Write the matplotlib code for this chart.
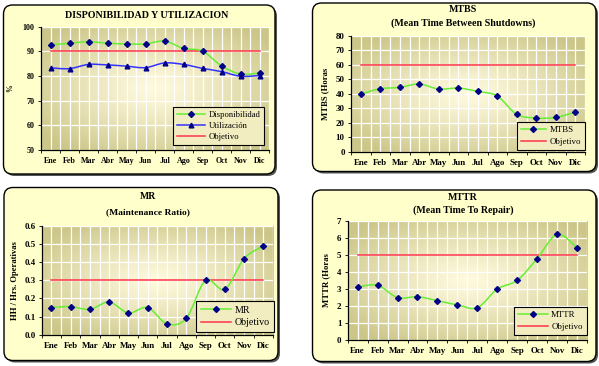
import numpy as np
import matplotlib
matplotlib.use("Agg")
import matplotlib.pyplot as plt
from matplotlib.path import Path
from matplotlib.patches import PathPatch, FancyBboxPatch
from matplotlib.lines import Line2D

plt.rcParams['font.family'] = ['Liberation Serif', 'DejaVu Serif']
plt.rcParams['font.weight'] = 'bold'

meses = ["Ene", "Feb", "Mar", "Abr", "May", "Jun", "Jul", "Ago", "Sep", "Oct", "Nov", "Dic"]
disponibilidad = [92.6, 93.3, 93.9, 93.3, 93.0, 93.0, 94.2, 91.2, 90.1, 84.1, 80.8, 81.2]
utilizacion = [83.3, 83.0, 84.7, 84.5, 84.0, 83.4, 85.3, 84.7, 83.1, 81.8, 79.9, 80.2]
objetivo_disp = 90
mtbs = [39.9, 43.5, 44.5, 46.8, 43.3, 44.0, 41.7, 38.5, 25.8, 23.3, 23.7, 27.4]
objetivo_mtbs = 60
mr = [0.15, 0.155, 0.14, 0.18, 0.12, 0.15, 0.06, 0.09, 0.30, 0.25, 0.42, 0.49]
objetivo_mr = 0.3
mttr = [3.12, 3.22, 2.50, 2.55, 2.32, 2.07, 1.91, 3.0, 3.51, 4.78, 6.2, 5.42]
objetivo_mttr = 5

W, H = 599, 366
fig = plt.figure(figsize=(W / 100, H / 100), dpi=100)

GREEN = '#66EE33'
NAVY = '#000088'
BLUE = '#3333FF'
RED = '#FF3348'
LW = 1.1
MS_D = 3.0
MS_T = 3.4

# background layer in pixel coords
bg = fig.add_axes([0, 0, 1, 1], zorder=-10)
bg.set_xlim(0, W)
bg.set_ylim(H, 0)
bg.axis('off')
panels = [(3.5, 5, 275, 174), (312.5, 3, 596, 171.5), (4, 187.5, 278, 360.5), (312.5, 190, 596, 361.5)]
for (l, t, r, b) in panels:
    sh = FancyBboxPatch((l + 2, t + 2), r - l, b - t, boxstyle="round,pad=0,rounding_size=9",
                        facecolor='#555555', edgecolor='none')
    bg.add_patch(sh)
    p = FancyBboxPatch((l, t), r - l, b - t, boxstyle="round,pad=0,rounding_size=9",
                       facecolor='#FFFFCC', edgecolor='black', linewidth=1.0)
    bg.add_patch(p)


def rect(l, t, r, b):
    return [l / W, 1 - b / H, (r - l) / W, (b - t) / H]


# radial gradient image
yy, xx = np.mgrid[-1:1:120j, -1:1:200j]
rr = np.clip(np.sqrt(xx ** 2 + yy ** 2) / 1.25, 0, 1)
c_center = np.array([255, 250, 222]) / 255
c_edge = np.array([204, 198, 136]) / 255
k = rr[..., None] ** 1.2
grad = c_center[None, None, :] * (1 - k) + c_edge[None, None, :] * k


def smooth_path(x, y):
    verts = [(x[0], y[0])]
    codes = [Path.MOVETO]
    n = len(x)
    for i in range(n - 1):
        p0 = i - 1 if i > 0 else i
        p3 = i + 2 if i + 2 < n else i + 1
        c1 = (x[i] + (x[i + 1] - x[p0]) / 6, y[i] + (y[i + 1] - y[p0]) / 6)
        c2 = (x[i + 1] - (x[p3] - x[i]) / 6, y[i + 1] - (y[p3] - y[i]) / 6)
        verts += [c1, c2, (x[i + 1], y[i + 1])]
        codes += [Path.CURVE4] * 3
    return Path(verts, codes)


def setup(box, ylim, yticks, fmt, fs):
    ax = fig.add_axes(rect(*box))
    ax.imshow(grad, extent=[0, 1, 0, 1], transform=ax.transAxes, aspect='auto', zorder=0)
    ax.set_xlim(-0.5, 11.5)
    ax.set_ylim(*ylim)
    ax.set_xticks(range(12))
    ax.set_xticklabels(meses, fontsize=fs, fontweight='bold')
    ax.set_xticks(np.arange(-0.5, 12, 1), minor=True)
    ax.set_yticks(yticks)
    ax.set_yticklabels([fmt.format(v) for v in yticks], fontsize=fs, fontweight='bold')
    ax.grid(True, which='both', axis='x', color='white', lw=0.9)
    ax.grid(True, which='major', axis='y', color='white', lw=0.9)
    ax.tick_params(axis='x', which='major', length=0, pad=5)
    ax.tick_params(axis='x', which='minor', length=2.5, width=0.6)
    ax.tick_params(axis='y', length=2.5, width=0.6, pad=2)
    for s in ['top', 'right']:
        ax.spines[s].set_visible(False)
    for s in ['left', 'bottom']:
        ax.spines[s].set_linewidth(0.9)
    return ax


def series(ax, y, color, marker, ms):
    x = np.arange(12)
    ax.add_patch(PathPatch(smooth_path(x, np.array(y, float)), facecolor='none', edgecolor=color,
                           lw=LW, zorder=3))
    ax.plot(x, y, linestyle='none', marker=marker, color=NAVY, markersize=ms, zorder=4)


def objetivo(ax, v):
    ax.plot([0, 11], [v, v], color=RED, lw=LW, zorder=3)


def legend(ax, handles, labels, box, fs, hl):
    l, t, r, b = box
    leg = ax.legend(handles, labels, loc='center',
                    bbox_to_anchor=((l + r) / 2 / W, 1 - (t + b) / 2 / H),
                    bbox_transform=fig.transFigure, frameon=True, fancybox=False,
                    handlelength=hl, handletextpad=0.4, borderpad=0.45, labelspacing=0.35,
                    prop={'size': fs, 'weight': 'normal'})
    leg.get_frame().set_edgecolor('black')
    leg.get_frame().set_linewidth(0.8)
    leg.get_frame().set_facecolor('#F2EDC0')
    leg.get_frame().set_alpha(None)
    leg.set_zorder(10)


def h(color, marker=None, ms=MS_D):
    return Line2D([], [], color=color, lw=LW, marker=marker, markerfacecolor=NAVY,
                  markeredgecolor=NAVY, markersize=ms)


# Panel 1
ax1 = setup((41, 26.7, 269, 150), (50, 100), [50, 60, 70, 80, 90, 100], "{:.0f}", 5.8)
objetivo(ax1, objetivo_disp)
series(ax1, disponibilidad, GREEN, 'D', MS_D)
series(ax1, utilizacion, BLUE, '^', MS_T)
ax1.set_ylabel('%', fontsize=5.5, fontweight='bold', labelpad=6)
fig.text(146.7 / W, 1 - 15 / H, 'DISPONIBILIDAD Y UTILIZACION', ha='center', va='center',
         fontsize=7.2, fontweight='bold')
legend(ax1, [h(GREEN, 'D'), h(BLUE, '^', MS_T), h(RED)], ['Disponibilidad', 'Utilización', 'Objetivo'],
       (177.7, 109.3, 259.3, 142.7), 6.2, 3.3)

# Panel 2
ax2 = setup((351, 36, 585, 151.7), (0, 80), list(range(0, 81, 10)), "{:.0f}", 6.4)
objetivo(ax2, objetivo_mtbs)
series(ax2, mtbs, GREEN, 'D', MS_D)
ax2.set_ylabel('MTBS (Horas', fontsize=6.2, fontweight='bold', labelpad=5)
fig.text(463 / W, 1 - 10 / H, 'MTBS', ha='center', va='center', fontsize=7.2, fontweight='bold')
fig.text(463 / W, 1 - 22.7 / H, '(Mean Time Between Shutdowns)', ha='center', va='center',
         fontsize=7.2, fontweight='bold')
legend(ax2, [h(GREEN, 'D'), h(RED)], ['MTBS', 'Objetivo'], (522.7, 125, 579.3, 146.7), 6.4, 2.8)

# Panel 3
ax3 = setup((41.7, 226, 273, 334.7), (0, 0.6), [0, 0.1, 0.2, 0.3, 0.4, 0.5, 0.6], "{:.1f}", 6.4)
objetivo(ax3, objetivo_mr)
series(ax3, mr, GREEN, 'D', MS_D)
ax3.set_ylabel('HH / Hrs. Operativas', fontsize=6.2, fontweight='bold', labelpad=4)
fig.text(148 / W, 1 - 196.7 / H, 'MR', ha='center', va='center', fontsize=7, fontweight='bold')
fig.text(148 / W, 1 - 211.7 / H, '(Maintenance Ratio)', ha='center', va='center', fontsize=6.8,
         fontweight='bold')
legend(ax3, [h(GREEN, 'D'), h(RED)], ['MR', 'Objetivo'], (203, 301, 267.7, 332), 7.2, 3.0)

# Panel 4
ax4 = setup((347.7, 220.7, 587, 340.3), (0, 7), list(range(0, 8)), "{:.0f}", 6.4)
objetivo(ax4, objetivo_mttr)
series(ax4, mttr, GREEN, 'D', MS_D)
ax4.set_ylabel('MTTR (Horas', fontsize=6.2, fontweight='bold', labelpad=5)
fig.text(463 / W, 1 - 197.3 / H, 'MTTR', ha='center', va='center', fontsize=7.2, fontweight='bold')
fig.text(463 / W, 1 - 210 / H, '(Mean Time To Repair)', ha='center', va='center', fontsize=7.2,
         fontweight='bold')
legend(ax4, [h(GREEN, 'D'), h(RED)], ['MTTR', 'Objetivo'], (513, 308, 588, 334), 6.4, 3.3)

fig.savefig('out.png', dpi=100)
